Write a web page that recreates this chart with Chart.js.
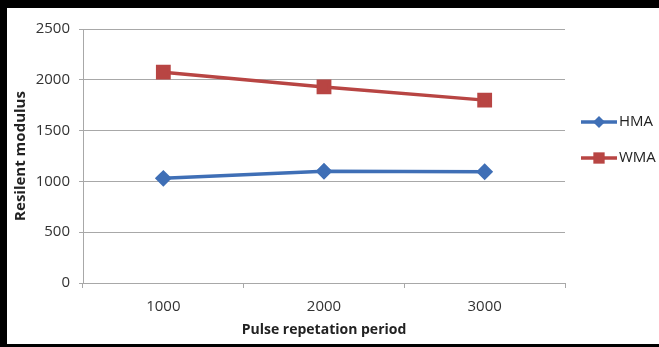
<!DOCTYPE html>
<html>
<head>
<meta charset="utf-8">
<script src="https://cdn.jsdelivr.net/npm/chart.js@4.4.0/dist/chart.umd.min.js"></script>
<style>
  html, body { margin: 0; padding: 0; background: #fff; }
  #wrap { position: relative; width: 659px; height: 347px; }
</style>
</head>
<body>
<div id="wrap"><canvas id="myChart"></canvas></div>
<script>
const periods = ['1000', '2000', '3000'];
const hmaValues = [1030, 1100, 1095];
const wmaValues = [2075, 1930, 1800];
const yTicks = [0, 500, 1000, 1500, 2000, 2500];

const FONT = '"Open Sans", sans-serif';

// excel-like legend: short line with the marker in the middle
const sideLegend = {
    id: 'sideLegend',
    afterDraw(chart) {
        const ctx = chart.ctx;
        const x0 = 581, x1 = 617;
        const rows = [122, 158];
        chart.data.datasets.forEach((ds, i) => {
            const y = rows[i];
            ctx.save();
            ctx.strokeStyle = ds.borderColor;
            ctx.lineWidth = ds.borderWidth;
            ctx.beginPath();
            ctx.moveTo(x0, y);
            ctx.lineTo(x1, y);
            ctx.stroke();
            ctx.fillStyle = ds.pointBackgroundColor;
            Chart.helpers.drawPoint(ctx, {
                pointStyle: ds.pointStyle,
                radius: ds.pointRadius,
                borderWidth: 0
            }, (x0 + x1) / 2, y);
            ctx.fillStyle = '#222';
            ctx.font = '15px ' + FONT;
            ctx.textBaseline = 'middle';
            ctx.fillText(ds.label, x1 + 2, y);
            ctx.restore();
        });
    }
};

// scanned frame: black edge on top, left and bottom
const frame = {
    id: 'frame',
    afterDraw(chart) {
        const ctx = chart.ctx;
        ctx.save();
        ctx.fillStyle = '#000';
        ctx.fillRect(0, 0, 659, 8);
        ctx.fillRect(0, 0, 7, 347);
        ctx.fillRect(0, 344, 659, 3);
        ctx.restore();
    }
};

const data = {
    labels: periods,
    datasets: [{
        label: 'HMA',
        data: hmaValues,
        borderColor: '#3f6fb6',
        backgroundColor: '#3f6fb6',
        pointBackgroundColor: '#3f6fb6',
        pointBorderColor: '#3f6fb6',
        pointStyle: 'rectRot',
        pointRadius: 6,
        borderWidth: 3.5
    }, {
        label: 'WMA',
        data: wmaValues,
        borderColor: '#b84543',
        backgroundColor: '#b84543',
        pointBackgroundColor: '#b84543',
        pointBorderColor: '#b84543',
        pointStyle: 'rect',
        pointRadius: 8,
        borderWidth: 3.5
    }]
};

const config = {
    type: 'line',
    data: data,
    plugins: [sideLegend, frame],
    options: {
        responsive: false,
        animation: false,
        layout: {
            padding: { top: 29, right: 94, bottom: 0, left: 8 }
        },
        scales: {
            x: {
                offset: true,
                grid: {
                    offset: true,
                    drawOnChartArea: false,
                    drawTicks: true,
                    tickLength: 5,
                    color: '#a8a8a8'
                },
                border: { color: '#a8a8a8', width: 1 },
                ticks: {
                    color: '#333',
                    font: { family: FONT, size: 15 },
                    padding: 10
                },
                title: {
                    display: true,
                    text: 'Pulse repetation period',
                    color: '#222',
                    font: { family: FONT, size: 14, weight: 'bold' },
                    padding: { top: 0, bottom: 9 }
                },
                afterFit(scale) { scale.height = 64; }
            },
            y: {
                min: 0,
                max: 2500,
                afterBuildTicks(scale) {
                    scale.ticks = yTicks.map(v => ({ value: v }));
                },
                grid: {
                    color: '#a8a8a8',
                    tickLength: 4
                },
                border: { color: '#a8a8a8', width: 1 },
                ticks: {
                    color: '#333',
                    font: { family: FONT, size: 15 },
                    padding: 9,
                    callback: (v) => String(v)
                },
                title: {
                    display: true,
                    text: 'Resilent modulus',
                    color: '#222',
                    font: { family: FONT, size: 15, weight: 'bold' },
                    padding: { top: 4, bottom: 0 }
                },
                afterFit(scale) { scale.width = 75; }
            }
        },
        plugins: {
            legend: { display: false },
            tooltip: { enabled: false }
        }
    }
};

const canvas = document.getElementById('myChart');
canvas.width = 659;
canvas.height = 347;
const myChart = new Chart(canvas, config);
</script>
</body>
</html>
